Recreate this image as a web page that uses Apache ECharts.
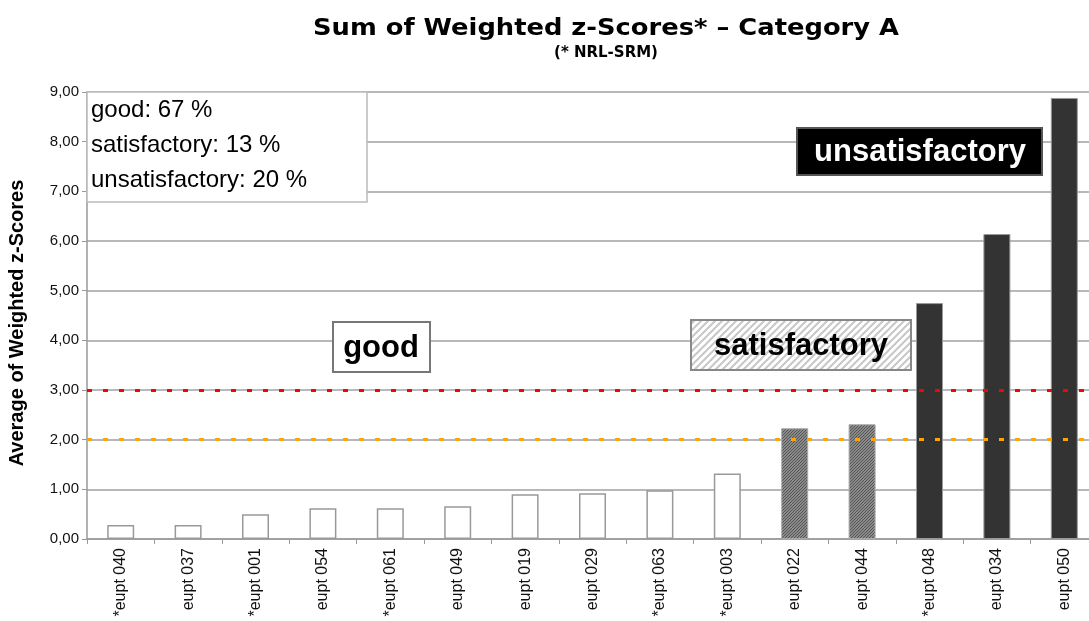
<!DOCTYPE html>
<html>
<head>
<meta charset="utf-8">
<script src="https://cdn.jsdelivr.net/npm/echarts@6/dist/echarts.min.js"></script>
<style>
  html, body { margin: 0; padding: 0; background: #fff; }
  #chart { width: 1089px; height: 621px; }
</style>
</head>
<body>
<div id="chart"></div>
<script>
// data
var categories = ['*eupt 040', 'eupt 037', '*eupt 001', 'eupt 054', '*eupt 061', 'eupt 049', 'eupt 019',
    'eupt 029', '*eupt 063', '*eupt 003', 'eupt 022', 'eupt 044', '*eupt 048', 'eupt 034', 'eupt 050'];
var scores = [0.28, 0.28, 0.50, 0.62, 0.62, 0.66, 0.90, 0.92, 0.98, 1.32, 2.23, 2.31, 4.75, 6.14, 8.88];
var ratings = ['good', 'good', 'good', 'good', 'good', 'good', 'good', 'good', 'good', 'good',
    'satisfactory', 'satisfactory', 'unsatisfactory', 'unsatisfactory', 'unsatisfactory'];
var limitSatisfactory = 2;
var limitUnsatisfactory = 3;
var shares = ['good: 67 %', 'satisfactory: 13 %', 'unsatisfactory: 20 %'];

// hatch patterns
function hatch(bg, fg, step, lw) {
    var c = document.createElement('canvas');
    c.width = step;
    c.height = step;
    var ctx = c.getContext('2d');
    ctx.fillStyle = bg;
    ctx.fillRect(0, 0, step, step);
    ctx.strokeStyle = fg;
    ctx.lineWidth = lw;
    ctx.beginPath();
    ctx.moveTo(-1, step + 1);
    ctx.lineTo(step + 1, -1);
    ctx.moveTo(-1, 1);
    ctx.lineTo(1, -1);
    ctx.moveTo(step - 1, step + 1);
    ctx.lineTo(step + 1, step - 1);
    ctx.stroke();
    return {image: c, repeat: 'repeat'};
}
var darkHatch = hatch('#8a8a8a', '#555', 3, 1);
var lightHatch = hatch('#ffffff', '#c8c8c8', 7, 2);

var styles = {
    good: {color: '#fff', borderColor: '#999', borderWidth: 1.5},
    satisfactory: {color: darkHatch, borderColor: '#aaa', borderWidth: 1},
    unsatisfactory: {color: '#333', borderColor: '#999', borderWidth: 1}
};

~function () {
    var myChart = echarts.init(document.getElementById('chart'));
    var option = {
        animation: false,
        textStyle: {fontFamily: 'Liberation Sans, Arial, sans-serif'},
        grid: {left: 87, right: -9, top: 92, bottom: 82, containLabel: false, outerBoundsMode: 'none'},
        xAxis: {
            type: 'category',
            data: categories,
            axisLine: {lineStyle: {color: '#999', width: 1.5}},
            axisTick: {show: true, length: 5, lineStyle: {color: '#999'}},
            axisLabel: {rotate: 90, color: '#111', fontSize: 16, margin: 9, interval: 0}
        },
        yAxis: {
            type: 'value',
            min: 0,
            max: 9,
            interval: 1,
            axisLine: {show: true, lineStyle: {color: '#999', width: 1.5}},
            axisTick: {show: true, length: 5, lineStyle: {color: '#999'}},
            axisLabel: {
                color: '#111', fontSize: 15, margin: 8,
                formatter: function (v) { return v.toFixed(2).replace('.', ','); }
            },
            splitLine: {lineStyle: {color: '#a0a0a0', width: 1.5}}
        },
        series: [{
            type: 'bar',
            barWidth: 27,
            data: scores.map(function (v, i) {
                return {value: v, itemStyle: styles[ratings[i]]};
            }),
            markLine: {
                silent: true,
                symbol: 'none',
                label: {show: false},
                data: [
                    {yAxis: limitUnsatisfactory, lineStyle: {color: '#ff0000', width: 3, type: [5, 11]}},
                    {yAxis: limitSatisfactory, lineStyle: {color: '#ffa500', width: 3, type: [5, 11]}}
                ]
            }
        }],
        graphic: [
            {
                type: 'text', x: 606, y: 29, scaleX: 1.12,
                style: {text: 'Sum of Weighted z-Scores* \u2013 Category A', fill: '#000', align: 'center', verticalAlign: 'middle',
                    font: 'bold 23px "DejaVu Sans"'}
            },
            {
                type: 'text', x: 606, y: 53,
                style: {text: '(* NRL-SRM)', fill: '#000', align: 'center', verticalAlign: 'middle',
                    font: 'bold 15px "DejaVu Sans"'}
            },
            {
                type: 'text', x: 17, y: 323, rotation: Math.PI / 2,
                style: {text: 'Average of Weighted z-Scores', fill: '#000', align: 'center', verticalAlign: 'middle',
                    font: 'bold 20px "Liberation Sans", Arial'}
            },
            {
                type: 'rect', shape: {x: 87, y: 92, width: 280, height: 110},
                style: {fill: '#fff', stroke: '#bbb', lineWidth: 1.5}, z: 10
            },
            {
                type: 'text', x: 91, y: 110, z: 11,
                style: {text: shares[0], fill: '#000', verticalAlign: 'middle', font: '24px "Liberation Sans", Arial'}
            },
            {
                type: 'text', x: 91, y: 145, z: 11,
                style: {text: shares[1], fill: '#000', verticalAlign: 'middle', font: '24px "Liberation Sans", Arial'}
            },
            {
                type: 'text', x: 91, y: 180, z: 11,
                style: {text: shares[2], fill: '#000', verticalAlign: 'middle', font: '24px "Liberation Sans", Arial'}
            },
            {
                type: 'rect', shape: {x: 333, y: 322, width: 97, height: 50},
                style: {fill: '#fff', stroke: '#777', lineWidth: 2}, z: 10
            },
            {
                type: 'text', x: 381, y: 348, z: 11,
                style: {text: 'good', fill: '#000', align: 'center', verticalAlign: 'middle', font: 'bold 31px "Liberation Sans", Arial'}
            },
            {
                type: 'rect', shape: {x: 691, y: 320, width: 220, height: 50},
                style: {fill: lightHatch, stroke: '#888', lineWidth: 2}, z: 10
            },
            {
                type: 'text', x: 801, y: 346, z: 11,
                style: {text: 'satisfactory', fill: '#000', align: 'center', verticalAlign: 'middle', font: 'bold 31px "Liberation Sans", Arial'}
            },
            {
                type: 'rect', shape: {x: 797, y: 128, width: 245, height: 47},
                style: {fill: '#000', stroke: '#555', lineWidth: 2}, z: 10
            },
            {
                type: 'text', x: 920, y: 152, z: 11,
                style: {text: 'unsatisfactory', fill: '#fff', align: 'center', verticalAlign: 'middle', font: 'bold 31px "Liberation Sans", Arial'}
            }
        ]
    };
    myChart.setOption(option);
}();
</script>
</body>
</html>
